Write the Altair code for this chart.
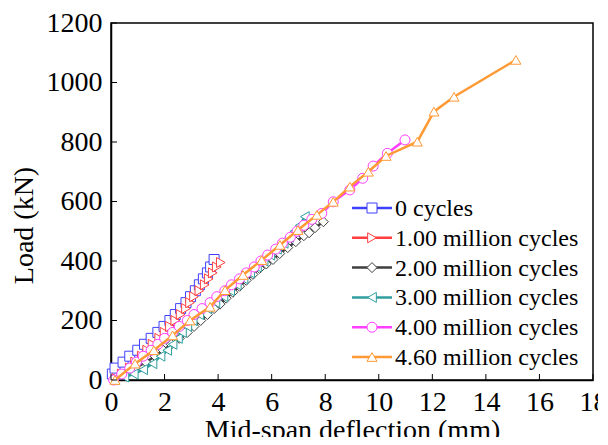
import altair as alt
import pandas as pd

names = ["0 cycles", "1.00 million cycles", "2.00 million cycles",
         "3.00 million cycles", "4.00 million cycles", "4.60 million cycles"]
colors = ["#3F3FFF", "#FF3F3F", "#3F3F3F", "#2E9E9E", "#FF3FFF", "#FF9933"]
shapes = ["square", "triangle-right", "diamond", "triangle-left", "circle", "triangle-up"]

defl_0 = [0.05, 0.15, 0.45, 0.7, 1.0, 1.25, 1.5, 1.75, 1.98, 2.2, 2.4, 2.6, 2.8, 2.97, 3.15, 3.3, 3.45, 3.6, 3.72, 3.85]
load_0 = [20, 40, 60, 80, 100, 120, 140, 160, 180, 200, 220, 240, 260, 280, 300, 320, 340, 360, 380, 405]

defl_1 = [0.2, 0.4, 0.7, 0.9, 1.15, 1.35, 1.55, 1.8, 2.0, 2.2, 2.4, 2.6, 2.8, 2.95, 3.1, 3.3, 3.5, 3.65, 3.8, 3.95, 4.1]
load_1 = [5, 20, 40, 60, 80, 100, 120, 140, 160, 180, 200, 220, 240, 260, 280, 300, 320, 340, 360, 380, 395]

defl_2 = [0.1, 0.5, 0.9, 1.3, 1.65, 1.95, 2.25, 2.55, 2.85, 3.1, 3.35, 3.6, 3.85, 4.07, 4.3, 4.55, 4.8, 5.05, 5.3, 5.55, 5.8, 6.05, 6.3, 6.6, 6.9, 7.2, 7.4, 7.62, 7.93]
load_2 = [0, 20, 40, 60, 80, 100, 120, 140, 160, 180, 200, 220, 240, 255, 275, 295, 315, 335, 355, 375, 390, 405, 425, 445, 465, 485, 495, 512, 532]

defl_3 = [0.1, 0.5, 0.85, 1.2, 1.55, 1.85, 2.1, 2.3, 2.5, 2.65, 2.85, 3.05, 3.3, 3.6, 3.9, 4.2, 4.45, 4.7, 4.95, 5.2, 5.45, 5.7, 5.95, 6.2, 6.45, 6.65, 6.85, 7.05, 7.24]
load_3 = [0, 10, 20, 35, 55, 80, 100, 120, 140, 160, 180, 200, 220, 240, 260, 280, 300, 320, 340, 360, 380, 400, 420, 440, 460, 480, 500, 520, 549]

defl_4 = [0.1, 0.4, 0.7, 0.95, 1.2, 1.5, 1.75, 2.0, 2.3, 2.55, 2.85, 3.1, 3.4, 3.7, 3.95, 4.25, 4.5, 4.8, 5.05, 5.35, 5.6, 5.85, 6.15, 6.4, 6.7, 6.95, 7.2, 7.5, 7.87, 8.3, 8.92, 9.4, 9.79, 10.32, 10.98]
load_4 = [0, 20, 40, 60, 80, 100, 120, 140, 160, 180, 200, 220, 240, 260, 280, 300, 320, 340, 360, 380, 400, 420, 440, 460, 480, 500, 520, 540, 560, 599, 639, 678, 719, 762, 807]

defl_5 = [0.15, 0.9, 1.6, 2.3, 2.95, 3.7, 4.26, 4.93, 5.63, 6.31, 6.98, 7.69, 8.3, 8.92, 9.61, 10.27, 11.44, 12.06, 12.81, 15.12]
load_5 = [0, 55, 100, 150, 200, 246, 302, 353, 403, 454, 504, 555, 599, 650, 700, 753, 801, 902, 952, 1076]

x_ticks = [0, 2, 4, 6, 8, 10, 12, 14, 16, 18]
y_ticks = [0, 200, 400, 600, 800, 1000, 1200]

series = [(defl_0, load_0), (defl_1, load_1), (defl_2, load_2),
          (defl_3, load_3), (defl_4, load_4), (defl_5, load_5)]
rows = []
for i, (dx, ly) in enumerate(series):
    for k, (a, b) in enumerate(zip(dx, ly)):
        rows.append({"series": names[i], "defl": a, "load": b, "ord": k})
df = pd.DataFrame(rows)

W, H = 482, 357
FONT = "Liberation Serif"

xs = alt.Scale(domain=[0, 18], nice=False, zero=False)
ys = alt.Scale(domain=[0, 1200], nice=False)
cs = alt.Scale(domain=names, range=colors)
ss = alt.Scale(domain=names, range=shapes)

X = alt.X("defl:Q", scale=xs, axis=alt.Axis(values=x_ticks, format="d", title="Mid-span deflection (mm)", tickSize=0,
                                          labelPadding=8, titlePadding=0, grid=False, labelFlush=False,
                                          labelOverlap=False))
Y = alt.Y("load:Q", scale=ys, axis=alt.Axis(values=y_ticks, format="d", title="Load (kN)", tickSize=0,
                                          labelPadding=9, grid=False, titleX=-87, titleY=202,
                                          titleBaseline="middle", labelFlush=False, labelOverlap=False))

layers = []
for i, nm in enumerate(names):
    base = alt.Chart(df).transform_filter(alt.datum.series == nm)
    line = base.mark_line(strokeWidth=2.5).encode(
        x=X, y=Y, order="ord:Q",
        color=alt.Color("series:N", scale=cs, legend=None))
    pts = base.mark_point(filled=False, fill="white", fillOpacity=1, size=100, strokeWidth=1, opacity=1).encode(
        x=X, y=Y,
        stroke=alt.Stroke("series:N", scale=cs, legend=None),
        shape=alt.Shape("series:N", scale=ss, legend=None))
    layers += [line, pts]

xt = pd.DataFrame({"defl": x_ticks})
yt = pd.DataFrame({"load": y_ticks})
xtick = alt.Chart(xt).mark_rule(color="black", strokeWidth=1).encode(
    x=alt.X("defl:Q", scale=xs), y=alt.value(H), y2=alt.value(H - 6))
ytick = alt.Chart(yt).mark_rule(color="black", strokeWidth=1).encode(
    y=alt.Y("load:Q", scale=ys), x=alt.value(0), x2=alt.value(6))

leg = pd.DataFrame({"series": names, "idx": list(range(6))})
LY = alt.Y("idx:Q", scale=alt.Scale(domain=[0, 5], range=[185, 334]), axis=None)
leg_line = alt.Chart(leg).mark_rule(strokeWidth=2.5).encode(
    x=alt.value(241), x2=alt.value(281), y=LY,
    color=alt.Color("series:N", scale=cs, legend=None))
leg_pts = alt.Chart(leg).mark_point(filled=False, fill="white", fillOpacity=1, size=100, strokeWidth=1, opacity=1).encode(
    x=alt.value(261), y=LY,
    stroke=alt.Stroke("series:N", scale=cs, legend=None),
    shape=alt.Shape("series:N", scale=ss, legend=None))
leg_txt = alt.Chart(leg).mark_text(align="left", baseline="middle", font=FONT, fontSize=24, color="black", dy=1).encode(
    x=alt.value(284), y=LY, text="series:N")

main = alt.layer(*layers, xtick, ytick)
legend = alt.layer(leg_line, leg_pts, leg_txt)

chart = alt.layer(main, legend).resolve_scale(y="independent").properties(
    width=W, height=H,
    autosize=alt.AutoSizeParams(type="none"),
    padding={"left": 103, "top": 15, "right": 5, "bottom": 57},
).configure_view(stroke="black", strokeWidth=1.5).configure_axis(
    labelFont=FONT, titleFont=FONT, labelFontSize=28, titleFontSize=28,
    labelColor="black", titleColor="black", titleFontWeight="normal",
    domainColor="black", domainWidth=1.5,
)

chart.save("out.html", embed_options={"renderer": "svg", "actions": False})
